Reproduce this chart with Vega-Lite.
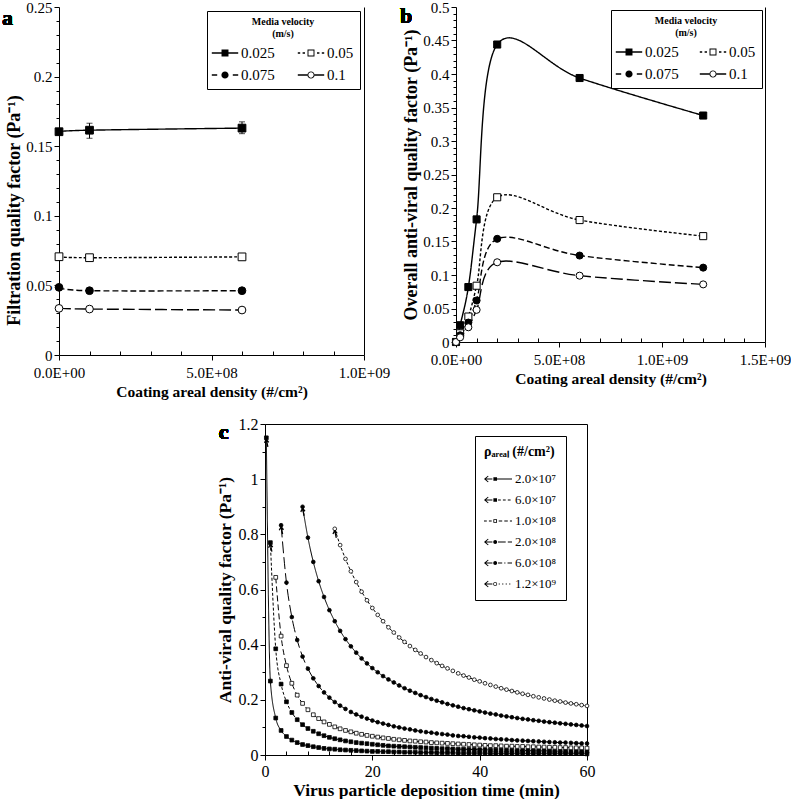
{
"$schema":"https://vega.github.io/schema/vega-lite/v6.json",
"background":"white",
"padding":{"left":1,"top":0,"right":0,"bottom":0},
"config":{"font":"Liberation Serif","view":{"stroke":null},
"axis":{"labelFont":"Liberation Serif","labelFontSize":15,"labelColor":"black","titleFont":"Liberation Serif","titleFontSize":15.5,"titleFontWeight":"bold","titleColor":"black","domainColor":"black","tickColor":"black","grid":false,"labelPadding":2,"titlePadding":4,"labelFlush":false,"labelBound":false,"tickSize":5},
"axisX":{"labelPadding":5},
"legend":{"labelFont":"Liberation Serif","titleFont":"Liberation Serif","labelColor":"black","titleColor":"black"},
"text":{"font":"Liberation Serif","color":"black"}},
"datasets":{
"a":[
{"v":"0.025","x":0,"q":0.1604,"lo":0.1588,"hi":0.1620},
{"v":"0.025","x":1e8,"q":0.1615,"lo":0.1557,"hi":0.1665},
{"v":"0.025","x":6e8,"q":0.1630,"lo":0.1590,"hi":0.1675},
{"v":"0.05","x":0,"q":0.0706},{"v":"0.05","x":1e8,"q":0.0699},{"v":"0.05","x":6e8,"q":0.0705},
{"v":"0.075","x":0,"q":0.0486},{"v":"0.075","x":1e8,"q":0.0462},{"v":"0.075","x":6e8,"q":0.0462},
{"v":"0.1","x":0,"q":0.0335},{"v":"0.1","x":1e8,"q":0.0330},{"v":"0.1","x":6e8,"q":0.0323}],
"b":[
{"v":"0.025","x":0,"q":0},{"v":"0.025","x":2e7,"q":0.025},{"v":"0.025","x":6e7,"q":0.082},{"v":"0.025","x":1e8,"q":0.183},{"v":"0.025","x":2e8,"q":0.444},{"v":"0.025","x":6e8,"q":0.394},{"v":"0.025","x":1.2e9,"q":0.338},
{"v":"0.05","x":0,"q":0},{"v":"0.05","x":2e7,"q":0.013},{"v":"0.05","x":6e7,"q":0.038},{"v":"0.05","x":1e8,"q":0.084},{"v":"0.05","x":2e8,"q":0.216},{"v":"0.05","x":6e8,"q":0.182},{"v":"0.05","x":1.2e9,"q":0.158},
{"v":"0.075","x":0,"q":0},{"v":"0.075","x":2e7,"q":0.010},{"v":"0.075","x":6e7,"q":0.029},{"v":"0.075","x":1e8,"q":0.062},{"v":"0.075","x":2e8,"q":0.154},{"v":"0.075","x":6e8,"q":0.129},{"v":"0.075","x":1.2e9,"q":0.111},
{"v":"0.1","x":0,"q":0},{"v":"0.1","x":2e7,"q":0.007},{"v":"0.1","x":6e7,"q":0.022},{"v":"0.1","x":1e8,"q":0.048},{"v":"0.1","x":2e8,"q":0.119},{"v":"0.1","x":6e8,"q":0.099},{"v":"0.1","x":1.2e9,"q":0.086}],
"cpk":[
{"s":"2.0×10⁷","t":0.25,"q":1.15},{"s":"6.0×10⁷","t":1,"q":0.77},{"s":"2.0×10⁸","t":3,"q":0.833},{"s":"6.0×10⁸","t":7,"q":0.9},{"s":"1.2×10⁹","t":13,"q":0.82}],
"c":[
{"s":"2.0×10⁷","t":0.25,"q":1.15},{"s":"2.0×10⁷","t":1,"q":0.268},{"s":"2.0×10⁷","t":2,"q":0.134},{"s":"2.0×10⁷","t":3,"q":0.089},{"s":"2.0×10⁷","t":4,"q":0.067},{"s":"2.0×10⁷","t":5,"q":0.054},{"s":"2.0×10⁷","t":6,"q":0.045},{"s":"2.0×10⁷","t":7,"q":0.038},{"s":"2.0×10⁷","t":8,"q":0.034},{"s":"2.0×10⁷","t":9,"q":0.030},{"s":"2.0×10⁷","t":10,"q":0.027},
{"s":"2.0×10⁷","t":11,"q":0.024},{"s":"2.0×10⁷","t":12,"q":0.022},{"s":"2.0×10⁷","t":13,"q":0.021},{"s":"2.0×10⁷","t":14,"q":0.019},{"s":"2.0×10⁷","t":15,"q":0.018},{"s":"2.0×10⁷","t":16,"q":0.017},{"s":"2.0×10⁷","t":17,"q":0.016},{"s":"2.0×10⁷","t":18,"q":0.015},{"s":"2.0×10⁷","t":19,"q":0.014},{"s":"2.0×10⁷","t":20,"q":0.013},
{"s":"2.0×10⁷","t":21,"q":0.013},{"s":"2.0×10⁷","t":22,"q":0.012},{"s":"2.0×10⁷","t":23,"q":0.012},{"s":"2.0×10⁷","t":24,"q":0.011},{"s":"2.0×10⁷","t":25,"q":0.011},{"s":"2.0×10⁷","t":26,"q":0.010},{"s":"2.0×10⁷","t":27,"q":0.010},{"s":"2.0×10⁷","t":28,"q":0.010},{"s":"2.0×10⁷","t":29,"q":0.009},{"s":"2.0×10⁷","t":30,"q":0.009},
{"s":"2.0×10⁷","t":31,"q":0.009},{"s":"2.0×10⁷","t":32,"q":0.008},{"s":"2.0×10⁷","t":33,"q":0.008},{"s":"2.0×10⁷","t":34,"q":0.008},{"s":"2.0×10⁷","t":35,"q":0.008},{"s":"2.0×10⁷","t":36,"q":0.007},{"s":"2.0×10⁷","t":37,"q":0.007},{"s":"2.0×10⁷","t":38,"q":0.007},{"s":"2.0×10⁷","t":39,"q":0.007},{"s":"2.0×10⁷","t":40,"q":0.007},
{"s":"2.0×10⁷","t":41,"q":0.007},{"s":"2.0×10⁷","t":42,"q":0.006},{"s":"2.0×10⁷","t":43,"q":0.006},{"s":"2.0×10⁷","t":44,"q":0.006},{"s":"2.0×10⁷","t":45,"q":0.006},{"s":"2.0×10⁷","t":46,"q":0.006},{"s":"2.0×10⁷","t":47,"q":0.006},{"s":"2.0×10⁷","t":48,"q":0.006},{"s":"2.0×10⁷","t":49,"q":0.005},{"s":"2.0×10⁷","t":50,"q":0.005},
{"s":"2.0×10⁷","t":51,"q":0.005},{"s":"2.0×10⁷","t":52,"q":0.005},{"s":"2.0×10⁷","t":53,"q":0.005},{"s":"2.0×10⁷","t":54,"q":0.005},{"s":"2.0×10⁷","t":55,"q":0.005},{"s":"2.0×10⁷","t":56,"q":0.005},{"s":"2.0×10⁷","t":57,"q":0.005},{"s":"2.0×10⁷","t":58,"q":0.005},{"s":"2.0×10⁷","t":59,"q":0.005},{"s":"2.0×10⁷","t":60,"q":0.004},
{"s":"6.0×10⁷","t":1,"q":0.770},{"s":"6.0×10⁷","t":2,"q":0.385},{"s":"6.0×10⁷","t":3,"q":0.257},{"s":"6.0×10⁷","t":4,"q":0.193},{"s":"6.0×10⁷","t":5,"q":0.154},{"s":"6.0×10⁷","t":6,"q":0.128},{"s":"6.0×10⁷","t":7,"q":0.110},{"s":"6.0×10⁷","t":8,"q":0.096},{"s":"6.0×10⁷","t":9,"q":0.086},{"s":"6.0×10⁷","t":10,"q":0.077},
{"s":"6.0×10⁷","t":11,"q":0.070},{"s":"6.0×10⁷","t":12,"q":0.064},{"s":"6.0×10⁷","t":13,"q":0.059},{"s":"6.0×10⁷","t":14,"q":0.055},{"s":"6.0×10⁷","t":15,"q":0.051},{"s":"6.0×10⁷","t":16,"q":0.048},{"s":"6.0×10⁷","t":17,"q":0.045},{"s":"6.0×10⁷","t":18,"q":0.043},{"s":"6.0×10⁷","t":19,"q":0.041},{"s":"6.0×10⁷","t":20,"q":0.039},
{"s":"6.0×10⁷","t":21,"q":0.037},{"s":"6.0×10⁷","t":22,"q":0.035},{"s":"6.0×10⁷","t":23,"q":0.033},{"s":"6.0×10⁷","t":24,"q":0.032},{"s":"6.0×10⁷","t":25,"q":0.031},{"s":"6.0×10⁷","t":26,"q":0.030},{"s":"6.0×10⁷","t":27,"q":0.029},{"s":"6.0×10⁷","t":28,"q":0.028},{"s":"6.0×10⁷","t":29,"q":0.027},{"s":"6.0×10⁷","t":30,"q":0.026},
{"s":"6.0×10⁷","t":31,"q":0.025},{"s":"6.0×10⁷","t":32,"q":0.024},{"s":"6.0×10⁷","t":33,"q":0.023},{"s":"6.0×10⁷","t":34,"q":0.023},{"s":"6.0×10⁷","t":35,"q":0.022},{"s":"6.0×10⁷","t":36,"q":0.021},{"s":"6.0×10⁷","t":37,"q":0.021},{"s":"6.0×10⁷","t":38,"q":0.020},{"s":"6.0×10⁷","t":39,"q":0.020},{"s":"6.0×10⁷","t":40,"q":0.019},
{"s":"6.0×10⁷","t":41,"q":0.019},{"s":"6.0×10⁷","t":42,"q":0.018},{"s":"6.0×10⁷","t":43,"q":0.018},{"s":"6.0×10⁷","t":44,"q":0.018},{"s":"6.0×10⁷","t":45,"q":0.017},{"s":"6.0×10⁷","t":46,"q":0.017},{"s":"6.0×10⁷","t":47,"q":0.016},{"s":"6.0×10⁷","t":48,"q":0.016},{"s":"6.0×10⁷","t":49,"q":0.016},{"s":"6.0×10⁷","t":50,"q":0.015},
{"s":"6.0×10⁷","t":51,"q":0.015},{"s":"6.0×10⁷","t":52,"q":0.015},{"s":"6.0×10⁷","t":53,"q":0.015},{"s":"6.0×10⁷","t":54,"q":0.014},{"s":"6.0×10⁷","t":55,"q":0.014},{"s":"6.0×10⁷","t":56,"q":0.014},{"s":"6.0×10⁷","t":57,"q":0.014},{"s":"6.0×10⁷","t":58,"q":0.013},{"s":"6.0×10⁷","t":59,"q":0.013},{"s":"6.0×10⁷","t":60,"q":0.013},
{"s":"1.0×10⁸","t":2,"q":0.644},{"s":"1.0×10⁸","t":3,"q":0.431},{"s":"1.0×10⁸","t":4,"q":0.324},{"s":"1.0×10⁸","t":5,"q":0.260},{"s":"1.0×10⁸","t":6,"q":0.217},{"s":"1.0×10⁸","t":7,"q":0.187},{"s":"1.0×10⁸","t":8,"q":0.164},{"s":"1.0×10⁸","t":9,"q":0.146},{"s":"1.0×10⁸","t":10,"q":0.132},
{"s":"1.0×10⁸","t":11,"q":0.120},{"s":"1.0×10⁸","t":12,"q":0.111},{"s":"1.0×10⁸","t":13,"q":0.102},{"s":"1.0×10⁸","t":14,"q":0.095},{"s":"1.0×10⁸","t":15,"q":0.089},{"s":"1.0×10⁸","t":16,"q":0.084},{"s":"1.0×10⁸","t":17,"q":0.079},{"s":"1.0×10⁸","t":18,"q":0.075},{"s":"1.0×10⁸","t":19,"q":0.071},{"s":"1.0×10⁸","t":20,"q":0.068},
{"s":"1.0×10⁸","t":21,"q":0.065},{"s":"1.0×10⁸","t":22,"q":0.062},{"s":"1.0×10⁸","t":23,"q":0.060},{"s":"1.0×10⁸","t":24,"q":0.057},{"s":"1.0×10⁸","t":25,"q":0.055},{"s":"1.0×10⁸","t":26,"q":0.053},{"s":"1.0×10⁸","t":27,"q":0.051},{"s":"1.0×10⁸","t":28,"q":0.050},{"s":"1.0×10⁸","t":29,"q":0.048},{"s":"1.0×10⁸","t":30,"q":0.047},
{"s":"1.0×10⁸","t":31,"q":0.045},{"s":"1.0×10⁸","t":32,"q":0.044},{"s":"1.0×10⁸","t":33,"q":0.043},{"s":"1.0×10⁸","t":34,"q":0.042},{"s":"1.0×10⁸","t":35,"q":0.041},{"s":"1.0×10⁸","t":36,"q":0.040},{"s":"1.0×10⁸","t":37,"q":0.039},{"s":"1.0×10⁸","t":38,"q":0.038},{"s":"1.0×10⁸","t":39,"q":0.037},{"s":"1.0×10⁸","t":40,"q":0.036},
{"s":"1.0×10⁸","t":41,"q":0.035},{"s":"1.0×10⁸","t":42,"q":0.034},{"s":"1.0×10⁸","t":43,"q":0.034},{"s":"1.0×10⁸","t":44,"q":0.033},{"s":"1.0×10⁸","t":45,"q":0.032},{"s":"1.0×10⁸","t":46,"q":0.032},{"s":"1.0×10⁸","t":47,"q":0.031},{"s":"1.0×10⁸","t":48,"q":0.031},{"s":"1.0×10⁸","t":49,"q":0.030},{"s":"1.0×10⁸","t":50,"q":0.030},
{"s":"1.0×10⁸","t":51,"q":0.029},{"s":"1.0×10⁸","t":52,"q":0.029},{"s":"1.0×10⁸","t":53,"q":0.028},{"s":"1.0×10⁸","t":54,"q":0.028},{"s":"1.0×10⁸","t":55,"q":0.027},{"s":"1.0×10⁸","t":56,"q":0.027},{"s":"1.0×10⁸","t":57,"q":0.026},{"s":"1.0×10⁸","t":58,"q":0.026},{"s":"1.0×10⁸","t":59,"q":0.026},{"s":"1.0×10⁸","t":60,"q":0.025},
{"s":"2.0×10⁸","t":3,"q":0.833},{"s":"2.0×10⁸","t":4,"q":0.625},{"s":"2.0×10⁸","t":5,"q":0.500},{"s":"2.0×10⁸","t":6,"q":0.417},{"s":"2.0×10⁸","t":7,"q":0.357},{"s":"2.0×10⁸","t":8,"q":0.313},{"s":"2.0×10⁸","t":9,"q":0.278},{"s":"2.0×10⁸","t":10,"q":0.250},
{"s":"2.0×10⁸","t":11,"q":0.227},{"s":"2.0×10⁸","t":12,"q":0.208},{"s":"2.0×10⁸","t":13,"q":0.192},{"s":"2.0×10⁸","t":14,"q":0.179},{"s":"2.0×10⁸","t":15,"q":0.167},{"s":"2.0×10⁸","t":16,"q":0.156},{"s":"2.0×10⁸","t":17,"q":0.147},{"s":"2.0×10⁸","t":18,"q":0.139},{"s":"2.0×10⁸","t":19,"q":0.132},{"s":"2.0×10⁸","t":20,"q":0.125},
{"s":"2.0×10⁸","t":21,"q":0.119},{"s":"2.0×10⁸","t":22,"q":0.114},{"s":"2.0×10⁸","t":23,"q":0.109},{"s":"2.0×10⁸","t":24,"q":0.104},{"s":"2.0×10⁸","t":25,"q":0.100},{"s":"2.0×10⁸","t":26,"q":0.096},{"s":"2.0×10⁸","t":27,"q":0.093},{"s":"2.0×10⁸","t":28,"q":0.089},{"s":"2.0×10⁸","t":29,"q":0.086},{"s":"2.0×10⁸","t":30,"q":0.083},
{"s":"2.0×10⁸","t":31,"q":0.081},{"s":"2.0×10⁸","t":32,"q":0.078},{"s":"2.0×10⁸","t":33,"q":0.076},{"s":"2.0×10⁸","t":34,"q":0.074},{"s":"2.0×10⁸","t":35,"q":0.071},{"s":"2.0×10⁸","t":36,"q":0.069},{"s":"2.0×10⁸","t":37,"q":0.068},{"s":"2.0×10⁸","t":38,"q":0.066},{"s":"2.0×10⁸","t":39,"q":0.064},{"s":"2.0×10⁸","t":40,"q":0.063},
{"s":"2.0×10⁸","t":41,"q":0.061},{"s":"2.0×10⁸","t":42,"q":0.060},{"s":"2.0×10⁸","t":43,"q":0.058},{"s":"2.0×10⁸","t":44,"q":0.057},{"s":"2.0×10⁸","t":45,"q":0.056},{"s":"2.0×10⁸","t":46,"q":0.054},{"s":"2.0×10⁸","t":47,"q":0.053},{"s":"2.0×10⁸","t":48,"q":0.052},{"s":"2.0×10⁸","t":49,"q":0.051},{"s":"2.0×10⁸","t":50,"q":0.050},
{"s":"2.0×10⁸","t":51,"q":0.049},{"s":"2.0×10⁸","t":52,"q":0.048},{"s":"2.0×10⁸","t":53,"q":0.047},{"s":"2.0×10⁸","t":54,"q":0.046},{"s":"2.0×10⁸","t":55,"q":0.045},{"s":"2.0×10⁸","t":56,"q":0.045},{"s":"2.0×10⁸","t":57,"q":0.044},{"s":"2.0×10⁸","t":58,"q":0.043},{"s":"2.0×10⁸","t":59,"q":0.042},{"s":"2.0×10⁸","t":60,"q":0.042},
{"s":"6.0×10⁸","t":7,"q":0.900},{"s":"6.0×10⁸","t":8,"q":0.788},{"s":"6.0×10⁸","t":9,"q":0.700},{"s":"6.0×10⁸","t":10,"q":0.630},
{"s":"6.0×10⁸","t":11,"q":0.573},{"s":"6.0×10⁸","t":12,"q":0.525},{"s":"6.0×10⁸","t":13,"q":0.485},{"s":"6.0×10⁸","t":14,"q":0.450},{"s":"6.0×10⁸","t":15,"q":0.420},{"s":"6.0×10⁸","t":16,"q":0.394},{"s":"6.0×10⁸","t":17,"q":0.371},{"s":"6.0×10⁸","t":18,"q":0.350},{"s":"6.0×10⁸","t":19,"q":0.332},{"s":"6.0×10⁸","t":20,"q":0.315},
{"s":"6.0×10⁸","t":21,"q":0.300},{"s":"6.0×10⁸","t":22,"q":0.286},{"s":"6.0×10⁸","t":23,"q":0.274},{"s":"6.0×10⁸","t":24,"q":0.263},{"s":"6.0×10⁸","t":25,"q":0.252},{"s":"6.0×10⁸","t":26,"q":0.242},{"s":"6.0×10⁸","t":27,"q":0.233},{"s":"6.0×10⁸","t":28,"q":0.225},{"s":"6.0×10⁸","t":29,"q":0.217},{"s":"6.0×10⁸","t":30,"q":0.210},
{"s":"6.0×10⁸","t":31,"q":0.203},{"s":"6.0×10⁸","t":32,"q":0.197},{"s":"6.0×10⁸","t":33,"q":0.191},{"s":"6.0×10⁸","t":34,"q":0.185},{"s":"6.0×10⁸","t":35,"q":0.180},{"s":"6.0×10⁸","t":36,"q":0.175},{"s":"6.0×10⁸","t":37,"q":0.170},{"s":"6.0×10⁸","t":38,"q":0.166},{"s":"6.0×10⁸","t":39,"q":0.162},{"s":"6.0×10⁸","t":40,"q":0.158},
{"s":"6.0×10⁸","t":41,"q":0.154},{"s":"6.0×10⁸","t":42,"q":0.150},{"s":"6.0×10⁸","t":43,"q":0.147},{"s":"6.0×10⁸","t":44,"q":0.143},{"s":"6.0×10⁸","t":45,"q":0.140},{"s":"6.0×10⁸","t":46,"q":0.137},{"s":"6.0×10⁸","t":47,"q":0.134},{"s":"6.0×10⁸","t":48,"q":0.131},{"s":"6.0×10⁸","t":49,"q":0.129},{"s":"6.0×10⁸","t":50,"q":0.126},
{"s":"6.0×10⁸","t":51,"q":0.124},{"s":"6.0×10⁸","t":52,"q":0.121},{"s":"6.0×10⁸","t":53,"q":0.119},{"s":"6.0×10⁸","t":54,"q":0.117},{"s":"6.0×10⁸","t":55,"q":0.115},{"s":"6.0×10⁸","t":56,"q":0.113},{"s":"6.0×10⁸","t":57,"q":0.111},{"s":"6.0×10⁸","t":58,"q":0.109},{"s":"6.0×10⁸","t":59,"q":0.107},{"s":"6.0×10⁸","t":60,"q":0.105},
{"s":"1.2×10⁹","t":13,"q":0.820},{"s":"1.2×10⁹","t":14,"q":0.761},{"s":"1.2×10⁹","t":15,"q":0.711},{"s":"1.2×10⁹","t":16,"q":0.666},{"s":"1.2×10⁹","t":17,"q":0.627},{"s":"1.2×10⁹","t":18,"q":0.592},{"s":"1.2×10⁹","t":19,"q":0.561},{"s":"1.2×10⁹","t":20,"q":0.533},
{"s":"1.2×10⁹","t":21,"q":0.508},{"s":"1.2×10⁹","t":22,"q":0.485},{"s":"1.2×10⁹","t":23,"q":0.463},{"s":"1.2×10⁹","t":24,"q":0.444},{"s":"1.2×10⁹","t":25,"q":0.426},{"s":"1.2×10⁹","t":26,"q":0.410},{"s":"1.2×10⁹","t":27,"q":0.395},{"s":"1.2×10⁹","t":28,"q":0.381},{"s":"1.2×10⁹","t":29,"q":0.368},{"s":"1.2×10⁹","t":30,"q":0.355},
{"s":"1.2×10⁹","t":31,"q":0.344},{"s":"1.2×10⁹","t":32,"q":0.333},{"s":"1.2×10⁹","t":33,"q":0.323},{"s":"1.2×10⁹","t":34,"q":0.314},{"s":"1.2×10⁹","t":35,"q":0.305},{"s":"1.2×10⁹","t":36,"q":0.296},{"s":"1.2×10⁹","t":37,"q":0.288},{"s":"1.2×10⁹","t":38,"q":0.281},{"s":"1.2×10⁹","t":39,"q":0.273},{"s":"1.2×10⁹","t":40,"q":0.267},
{"s":"1.2×10⁹","t":41,"q":0.260},{"s":"1.2×10⁹","t":42,"q":0.254},{"s":"1.2×10⁹","t":43,"q":0.248},{"s":"1.2×10⁹","t":44,"q":0.242},{"s":"1.2×10⁹","t":45,"q":0.237},{"s":"1.2×10⁹","t":46,"q":0.232},{"s":"1.2×10⁹","t":47,"q":0.227},{"s":"1.2×10⁹","t":48,"q":0.222},{"s":"1.2×10⁹","t":49,"q":0.218},{"s":"1.2×10⁹","t":50,"q":0.213},
{"s":"1.2×10⁹","t":51,"q":0.209},{"s":"1.2×10⁹","t":52,"q":0.205},{"s":"1.2×10⁹","t":53,"q":0.201},{"s":"1.2×10⁹","t":54,"q":0.197},{"s":"1.2×10⁹","t":55,"q":0.194},{"s":"1.2×10⁹","t":56,"q":0.190},{"s":"1.2×10⁹","t":57,"q":0.187},{"s":"1.2×10⁹","t":58,"q":0.184},{"s":"1.2×10⁹","t":59,"q":0.181},{"s":"1.2×10⁹","t":60,"q":0.178}]
},
"vconcat":[
{"hconcat":[
{"width":305,"height":348,
"data":{"name":"a"},
"layer":[
{"mark":{"type":"line","interpolate":"cardinal","color":"black","strokeWidth":1.4},
"encoding":{
"x":{"field":"x","type":"quantitative","scale":{"domain":[0,1e9],"nice":false},"axis":{"orient":"bottom","title":"Coating areal density (#/cm²)","values":[0,5e8,1e9],"labelExpr":"datum.value==0?'0.0E+00':datum.value==5e8?'5.0E+08':'1.0E+09'"}},
"y":{"field":"q","type":"quantitative","scale":{"domain":[0,0.25],"nice":false},"axis":{"orient":"left","title":"Filtration quality factor (Pa⁻¹)","titleFontSize":18,"titlePadding":2,"titleY":203,"values":[0,0.05,0.1,0.15,0.2,0.25],"format":"~g"}},
"strokeDash":{"field":"v","type":"nominal","scale":{"domain":["0.025","0.05","0.075","0.1"],"range":[[1,0],[3,2],[6,3],[12,4]]},"legend":null}}},
{"mark":{"type":"rule","color":"black","strokeWidth":1},
"encoding":{"x":{"field":"x","type":"quantitative","axis":{"orient":"bottom","values":[1e8,2e8,3e8,4e8,6e8,7e8,8e8,9e8],"labels":false,"domain":false,"title":null,"tickSize":-4}},"y":{"field":"lo","type":"quantitative","axis":{"orient":"left","values":[0.01,0.02,0.03,0.04,0.06,0.07,0.08,0.09,0.11,0.12,0.13,0.14,0.16,0.17,0.18,0.19,0.21,0.22,0.23,0.24],"labels":false,"domain":false,"title":null,"tickSize":3}},"y2":{"field":"hi"}}},
{"mark":{"type":"tick","orient":"horizontal","color":"black","size":6,"thickness":1},
"encoding":{"x":{"field":"x","type":"quantitative","axis":null},"y":{"field":"lo","type":"quantitative","axis":null}}},
{"mark":{"type":"tick","orient":"horizontal","color":"black","size":6,"thickness":1},
"encoding":{"x":{"field":"x","type":"quantitative","axis":null},"y":{"field":"hi","type":"quantitative","axis":null}}},
{"mark":{"type":"point","filled":true,"stroke":"black","strokeWidth":1,"size":60,"opacity":1},
"encoding":{"x":{"field":"x","type":"quantitative","axis":null},"y":{"field":"q","type":"quantitative","axis":{"orient":"right","labels":false,"ticks":false,"title":null,"domain":true}},
"shape":{"field":"v","type":"nominal","scale":{"domain":["0.025","0.05","0.075","0.1"],"range":["square","square","circle","circle"]},"legend":null},
"fill":{"field":"v","type":"nominal","scale":{"domain":["0.025","0.05","0.075","0.1"],"range":["black","white","black","white"]},"legend":null}}},
{"mark":{"type":"text","text":"a","fontSize":22,"fontWeight":"bold","align":"left","baseline":"alphabetic"},
"encoding":{"x":{"datum":-1.87e8,"type":"quantitative","axis":null},"y":{"datum":0.237,"type":"quantitative","axis":null}}},
{"transform":[{"filter":"false"}],
"mark":{"type":"point","fill":"black","opacity":1},
"encoding":{"shape":{"field":"v","type":"nominal","scale":{"domain":["0.025","0.05","0.075","0.1"],"range":[
"M-1.1,-0.06H1.1V0.06H-1.1ZM-0.29,-0.29H0.29V0.29H-0.29Z",
"M-1.1,-0.06H-0.9V0.06H-1.1ZM-0.7,-0.06H-0.5V0.06H-0.7ZM0.5,-0.06H0.7V0.06H0.5ZM0.9,-0.06H1.1V0.06H0.9ZM-0.29,-0.29H0.29V0.29H-0.29ZM-0.21,-0.21V0.21H0.21V-0.21Z",
"M-1.1,-0.06H-0.65V0.06H-1.1ZM0.65,-0.06H1.1V0.06H0.65ZM0.3,0A0.3,0.3,0,1,1,-0.3,0A0.3,0.3,0,1,1,0.3,0Z",
"M-1.1,-0.06H-0.3V0.06H-1.1ZM0.3,-0.06H1.1V0.06H0.3ZM0.3,0A0.3,0.3,0,1,1,-0.3,0A0.3,0.3,0,1,1,0.3,0ZM0.22,0A0.22,0.22,0,1,0,-0.22,0A0.22,0.22,0,1,0,0.22,0Z"]},
"legend":{"title":["Media velocity","(m/s)"],"orient":"top-right","offset":4,"columns":2,"direction":"horizontal","symbolSize":576,"symbolFillColor":"black","symbolStrokeWidth":0,"labelFontSize":15,"titleFontSize":10,"titleFontWeight":"bold","titleAnchor":"middle","titleAlign":"center","titleLineHeight":12,"strokeColor":"black","fillColor":"white","padding":6,"columnPadding":22,"rowPadding":2,"labelOffset":4,"titlePadding":2}}}}
],
"resolve":{"scale":{"shape":"independent","fill":"independent"},"axis":{"x":"independent","y":"independent"}}
},
{"width":309,"height":335,
"data":{"name":"b"},
"layer":[
{"mark":{"type":"line","interpolate":"cardinal","color":"black","strokeWidth":1.4},
"encoding":{
"x":{"field":"x","type":"quantitative","scale":{"domain":[0,1.5e9],"nice":false},"axis":{"orient":"bottom","title":"Coating areal density (#/cm²)","values":[0,5e8,1e9,1.5e9],"labelExpr":"datum.value==0?'0.0E+00':datum.value==5e8?'5.0E+08':datum.value==1e9?'1.0E+09':'1.5E+09'"}},
"y":{"field":"q","type":"quantitative","scale":{"domain":[0,0.5],"nice":false},"axis":{"orient":"left","title":"Overall anti-viral quality factor (Pa⁻¹)","titleFontSize":18,"titlePadding":2,"values":[0,0.05,0.1,0.15,0.2,0.25,0.3,0.35,0.4,0.45,0.5],"format":"~g"}},
"strokeDash":{"field":"v","type":"nominal","scale":{"domain":["0.025","0.05","0.075","0.1"],"range":[[1,0],[3,2],[6,3],[12,4]]},"legend":null}}},
{"mark":{"type":"point","filled":true,"stroke":"black","strokeWidth":1,"size":50,"opacity":1},
"encoding":{"x":{"field":"x","type":"quantitative","axis":{"orient":"bottom","values":[1e8,2e8,3e8,4e8,6e8,7e8,8e8,9e8,1.1e9,1.2e9,1.3e9,1.4e9],"labels":false,"domain":false,"title":null,"tickSize":-4}},"y":{"field":"q","type":"quantitative","axis":{"orient":"right","labels":false,"ticks":false,"title":null,"domain":true}},
"shape":{"field":"v","type":"nominal","scale":{"domain":["0.025","0.05","0.075","0.1"],"range":["square","square","circle","circle"]},"legend":null},
"fill":{"field":"v","type":"nominal","scale":{"domain":["0.025","0.05","0.075","0.1"],"range":["black","white","black","white"]},"legend":null}}},
{"mark":{"type":"text","text":"b","fontSize":22,"fontWeight":"bold","align":"left","baseline":"alphabetic"},
"encoding":{"x":{"datum":-2.72e8,"type":"quantitative","axis":null},"y":{"datum":0.476,"type":"quantitative","axis":{"orient":"left","values":[0.01,0.02,0.03,0.04,0.06,0.07,0.08,0.09,0.11,0.12,0.13,0.14,0.16,0.17,0.18,0.19,0.21,0.22,0.23,0.24,0.26,0.27,0.28,0.29,0.31,0.32,0.33,0.34,0.36,0.37,0.38,0.39,0.41,0.42,0.43,0.44,0.46,0.47,0.48,0.49],"labels":false,"domain":false,"title":null,"tickSize":3}}}},
{"transform":[{"filter":"false"}],
"mark":{"type":"point","fill":"black","opacity":1},
"encoding":{"shape":{"field":"v","type":"nominal","scale":{"domain":["0.025","0.05","0.075","0.1"],"range":[
"M-1.1,-0.06H1.1V0.06H-1.1ZM-0.29,-0.29H0.29V0.29H-0.29Z",
"M-1.1,-0.06H-0.9V0.06H-1.1ZM-0.7,-0.06H-0.5V0.06H-0.7ZM0.5,-0.06H0.7V0.06H0.5ZM0.9,-0.06H1.1V0.06H0.9ZM-0.29,-0.29H0.29V0.29H-0.29ZM-0.21,-0.21V0.21H0.21V-0.21Z",
"M-1.1,-0.06H-0.65V0.06H-1.1ZM0.65,-0.06H1.1V0.06H0.65ZM0.3,0A0.3,0.3,0,1,1,-0.3,0A0.3,0.3,0,1,1,0.3,0Z",
"M-1.1,-0.06H-0.3V0.06H-1.1ZM0.3,-0.06H1.1V0.06H0.3ZM0.3,0A0.3,0.3,0,1,1,-0.3,0A0.3,0.3,0,1,1,0.3,0ZM0.22,0A0.22,0.22,0,1,0,-0.22,0A0.22,0.22,0,1,0,0.22,0Z"]},
"legend":{"title":["Media velocity","(m/s)"],"orient":"top-right","offset":3,"columns":2,"direction":"horizontal","symbolSize":576,"symbolFillColor":"black","symbolStrokeWidth":0,"labelFontSize":15,"titleFontSize":10,"titleFontWeight":"bold","titleAnchor":"middle","titleAlign":"center","titleLineHeight":12,"strokeColor":"black","fillColor":"white","padding":6,"columnPadding":20,"rowPadding":2,"labelOffset":4,"titlePadding":2}}}}
],
"resolve":{"scale":{"shape":"independent","fill":"independent"},"axis":{"x":"independent","y":"independent"}}
}
],"spacing":9},
{"hconcat":[
{"width":156,"height":10,"data":{"values":[]},"mark":{"type":"point"}},
{"width":322,"height":331,
"view":{"stroke":"black","strokeWidth":1},
"data":{"name":"c"},
"layer":[
{"mark":{"type":"line","interpolate":"monotone","color":"black","strokeWidth":1},
"encoding":{
"x":{"field":"t","type":"quantitative","scale":{"domain":[0,60],"nice":false},"axis":{"orient":"bottom","title":"Virus particle deposition time (min)","titleFontSize":17.5,"titlePadding":2,"labelPadding":3,"labelFontSize":16,"values":[0,20,40,60],"format":"d"}},
"y":{"field":"q","type":"quantitative","scale":{"domain":[0,1.2],"nice":false},"axis":{"orient":"left","title":"Anti-viral quality factor (Pa⁻¹)","titleFontSize":17.5,"labelFontSize":16,"values":[0,0.2,0.4,0.6,0.8,1,1.2],"format":"~g"}},
"strokeDash":{"field":"s","type":"nominal","scale":{"domain":["2.0×10⁷","6.0×10⁷","1.0×10⁸","2.0×10⁸","6.0×10⁸","1.2×10⁹"],"range":[[1,0],[3,2],[4,3],[9,4],[8,3,2,3],[1.5,3]]},"legend":null}}},
{"mark":{"type":"point","filled":true,"stroke":"black","strokeWidth":0.8,"size":14,"opacity":1},
"encoding":{"x":{"field":"t","type":"quantitative","axis":{"orient":"bottom","values":[4,8,12,16,24,28,32,36,44,48,52,56],"labels":false,"domain":false,"title":null,"tickSize":-4}},"y":{"field":"q","type":"quantitative","axis":{"orient":"left","values":[0.1,0.3,0.5,0.7,0.9,1.1],"labels":false,"domain":false,"title":null,"tickSize":3}},
"shape":{"field":"s","type":"nominal","scale":{"domain":["2.0×10⁷","6.0×10⁷","1.0×10⁸","2.0×10⁸","6.0×10⁸","1.2×10⁹"],"range":["square","square","square","circle","circle","circle"]},"legend":null},
"fill":{"field":"s","type":"nominal","scale":{"domain":["2.0×10⁷","6.0×10⁷","1.0×10⁸","2.0×10⁸","6.0×10⁸","1.2×10⁹"],"range":["black","black","white","black","black","white"]},"legend":null}}},
{"data":{"name":"cpk"},
"mark":{"type":"point","shape":"M0,0.5L0.5,3M0,0.5L-0.6,1.7M0,0.5L0.8,1.5","size":36,"filled":false,"stroke":"black","strokeWidth":1.3,"opacity":1},
"encoding":{"x":{"field":"t","type":"quantitative","axis":null},"y":{"field":"q","type":"quantitative","axis":null}}},
{"mark":{"type":"text","text":"c","fontSize":22,"fontWeight":"bold","align":"left","baseline":"alphabetic"},
"encoding":{"x":{"datum":-8.6,"type":"quantitative","axis":null},"y":{"datum":1.146,"type":"quantitative","axis":null}}},
{"transform":[{"filter":"false"}],
"mark":{"type":"point","fill":"black","opacity":1},
"encoding":{"shape":{"field":"s","type":"nominal","scale":{"domain":["2.0×10⁷","6.0×10⁷","1.0×10⁸","2.0×10⁸","6.0×10⁸","1.2×10⁹"],"range":[
"M-1,0L-0.72,-0.24L-0.67,-0.19L-0.89,0L-0.67,0.19L-0.72,0.24ZM-0.95,-0.04H-0.4V0.04H-0.95ZM-0.33,-0.13H-0.07V0.13H-0.33ZM-0.07,-0.04H1V0.04H-0.07Z",
"M-1,0L-0.72,-0.24L-0.67,-0.19L-0.89,0L-0.67,0.19L-0.72,0.24ZM-0.95,-0.04H-0.4V0.04H-0.95ZM-0.33,-0.13H-0.07V0.13H-0.33ZM0,-0.04H0.2V0.04H0ZM0.35,-0.04H0.55V0.04H0.35ZM0.7,-0.04H0.9V0.04H0.7Z",
"M-1,-0.04H-0.8V0.04H-1ZM-0.65,-0.04H-0.45V0.04H-0.65ZM-0.33,-0.13H-0.07V0.13H-0.33ZM-0.27,-0.07V0.07H-0.13V-0.07ZM0.05,-0.04H0.3V0.04H0.05ZM0.45,-0.04H0.7V0.04H0.45ZM0.85,-0.04H1V0.04H0.85Z",
"M-1,0L-0.72,-0.24L-0.67,-0.19L-0.89,0L-0.67,0.19L-0.72,0.24ZM-0.95,-0.04H-0.4V0.04H-0.95ZM-0.06,0A0.14,0.14,0,1,1,-0.34,0A0.14,0.14,0,1,1,-0.06,0ZM0,-0.04H0.55V0.04H0ZM0.7,-0.04H1V0.04H0.7Z",
"M-1,0L-0.72,-0.24L-0.67,-0.19L-0.89,0L-0.67,0.19L-0.72,0.24ZM-0.95,-0.04H-0.4V0.04H-0.95ZM-0.06,0A0.14,0.14,0,1,1,-0.34,0A0.14,0.14,0,1,1,-0.06,0ZM0,-0.04H0.3V0.04H0ZM0.45,-0.04H0.53V0.04H0.45ZM0.68,-0.04H1V0.04H0.68Z",
"M-1,0L-0.72,-0.24L-0.67,-0.19L-0.89,0L-0.67,0.19L-0.72,0.24ZM-0.95,-0.04H-0.4V0.04H-0.95ZM-0.06,0A0.14,0.14,0,1,1,-0.34,0A0.14,0.14,0,1,1,-0.06,0ZM-0.11,0A0.09,0.09,0,1,0,-0.29,0A0.09,0.09,0,1,0,-0.11,0ZM0.05,-0.04H0.13V0.04H0.05ZM0.3,-0.04H0.38V0.04H0.3ZM0.55,-0.04H0.63V0.04H0.55ZM0.8,-0.04H0.88V0.04H0.8Z"]},
"legend":{"title":"ρₐᵣₑₐₗ (#/cm²)","orient":"none","legendX":210,"legendY":12,"symbolSize":784,"symbolFillColor":"black","symbolStrokeWidth":0,"labelFontSize":13,"titleFontSize":14,"titleFontWeight":"bold","strokeColor":"black","fillColor":"white","padding":9,"rowPadding":0,"labelOffset":3,"titlePadding":6}}}}
],
"resolve":{"scale":{"shape":"independent","fill":"independent"},"axis":{"x":"independent","y":"independent"}}
}
],"spacing":0}
],
"spacing":15
}
